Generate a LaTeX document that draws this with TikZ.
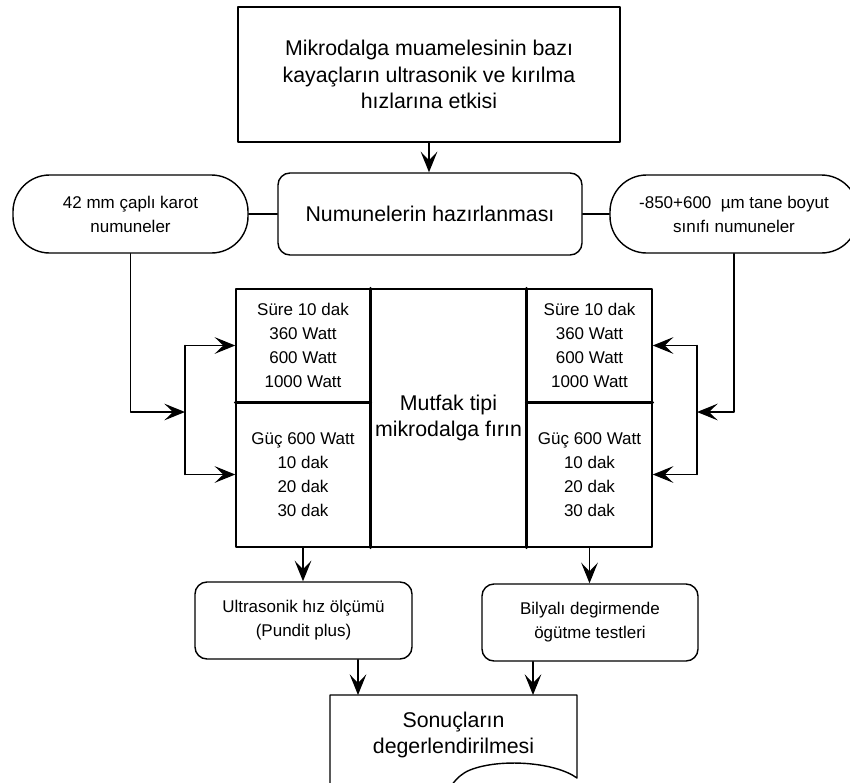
\documentclass[tikz,border=0pt]{standalone}
\usepackage{fontspec}
\setmainfont{Liberation Sans}
\usetikzlibrary{arrows.meta}
\usetikzlibrary{positioning}

\begin{document}
\begin{tikzpicture}[line cap=round,line join=round,x=0.03cm,y=-0.03cm,
  >={Stealth[length=0.62cm,width=0.5cm,inset=0.26cm]},
  every node/.style={inner sep=0pt,align=center},
  bigtext/.style={font=\fontsize{18.2}{22.5}\selectfont},
  smalltext/.style={font=\fontsize{14.5}{20.5}\selectfont},
  plainbox/.style={draw,line width=1.2pt},
  roundbox/.style={draw,line width=1.2pt,rounded corners=0.36cm},
  pillbox/.style={draw,line width=1.2pt,rounded corners=1.1cm},
  cell/.style={draw,line width=1.2pt,smalltext},
  divider/.style={line width=2.4pt},
  link/.style={line width=1.2pt}]
\useasboundingbox (0,0) rectangle (850,782);
\clip (0,0) rectangle (850,782);

% top
\node[plainbox,bigtext,minimum width=11.46cm,minimum height=4.05cm] (title) at (429,74.5)
  {Mikrodalga muamelesinin bazı\\kayaçların ultrasonik ve kırılma\\hızlarına etkisi};
\node[roundbox,bigtext,minimum width=9.12cm,minimum height=2.46cm] (prep) at (430,214)
  {Numunelerin hazırlanması};
\node[pillbox,smalltext,minimum width=7.05cm,minimum height=2.34cm] (core) at (130.5,214)
  {42 mm çaplı karot\\numuneler};
\node[pillbox,smalltext,minimum width=7.44cm,minimum height=2.34cm] (sieve) at (734,214)
  {-850+600 \ µm tane boyut\\sınıfı numuneler};

% oven block
\node[cell,minimum width=4.02cm,minimum height=3.39cm] (lsure) at (303,345.5)
  {Süre 10 dak\\360 Watt\\600 Watt\\1000 Watt};
\node[cell,minimum width=4.02cm,minimum height=4.35cm] (lguc) at (303,474.5)
  {Güç 600 Watt\\10 dak\\20 dak\\30 dak};
\node[plainbox,bigtext,minimum width=4.71cm,minimum height=7.74cm] (oven) at (448.5,418)
  {Mutfak tipi\\mikrodalga fırın};
\node[cell,minimum width=3.75cm,minimum height=3.39cm] (rsure) at (589.5,345.5)
  {Süre 10 dak\\360 Watt\\600 Watt\\1000 Watt};
\node[cell,minimum width=3.75cm,minimum height=4.35cm] (rguc) at (589.5,474.5)
  {Güç 600 Watt\\10 dak\\20 dak\\30 dak};
\draw[divider] (lsure.north east) -- (lguc.south east);
\draw[divider] (rsure.north west) -- (rguc.south west);
\draw[divider] (lsure.south west) -- (lsure.south east);
\draw[divider] (rsure.south west) -- (rsure.south east);

% tests
\node[roundbox,smalltext,minimum width=6.51cm,minimum height=2.31cm] (ultra) at (303.5,620.5)
  {Ultrasonik hız ölçümü\\(Pundit plus)};
\node[roundbox,smalltext,minimum width=6.48cm,minimum height=2.31cm] (bilya) at (590,622.5)
  {Bilyalı degirmende\\ögütme testleri};
\node[bigtext] (result) at (453.5,735) {Sonuçların\\degerlendirilmesi};
\draw[link] (330,810) -- (330,695) -- (577,695) -- (577,778)
  .. controls (555,762) and (500,758) .. (470,770)
  .. controls (455,776) and (448,790) .. (440,805);

% connectors
\coordinate (ljoin) at (185,412);
\coordinate (rjoin) at (697,412);
\coordinate (resA) at (358,695);
\coordinate (resB) at (533,695);
\draw[link,->] (title.south) -- (title.south |- prep.north);
\draw[link] (core.east) -- (prep.west);
\draw[link] (prep.east) -- (sieve.west);
\draw[link,->] (core.south) |- (ljoin);
\draw[link] (lsure.west -| ljoin) -- (lguc.west -| ljoin);
\draw[link,->] (lsure.west -| ljoin) -- (lsure.west);
\draw[link,->] (lguc.west -| ljoin) -- (lguc.west);
\draw[link,->] (sieve.south) |- (rjoin);
\draw[link] (rsure.east -| rjoin) -- (rguc.east -| rjoin);
\draw[link,->] (rsure.east -| rjoin) -- (rsure.east);
\draw[link,->] (rguc.east -| rjoin) -- (rguc.east);
\draw[link,->] (lguc.south) -- (lguc.south |- ultra.north);
\draw[link,->] (rguc.south) -- (rguc.south |- bilya.north);
\draw[link,->] (ultra.south -| resA) -- (resA);
\draw[link,->] (bilya.south -| resB) -- (resB);
\end{tikzpicture}
\end{document}
